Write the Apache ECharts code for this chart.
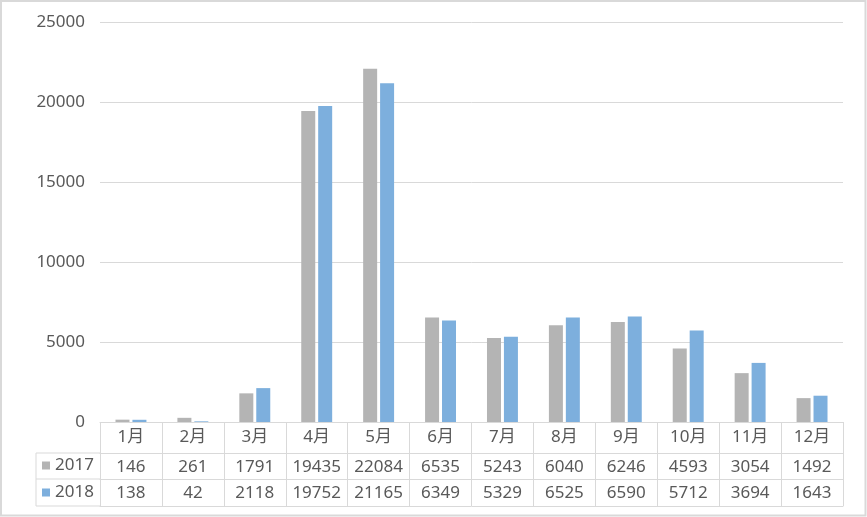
<!DOCTYPE html>
<html>
<head>
<meta charset="utf-8">
<script src="https://cdn.jsdelivr.net/npm/echarts@6/dist/echarts.min.js"></script>
<style>html,body{margin:0;padding:0;background:#fff;}#c{width:867px;height:517px;}</style>
</head>
<body>
<div id="c"></div>
<script>
const months = ['1月','2月','3月','4月','5月','6月','7月','8月','9月','10月','11月','12月'];
const seriesNames = ['2017','2018'];
const values2017 = [146,261,1791,19435,22084,6535,5243,6040,6246,4593,3054,1492];
const values2018 = [138,42,2118,19752,21165,6349,5329,6525,6590,5712,3694,1643];
const yMin = 0, yMax = 25000, yStep = 5000;

const FONT = '"Noto Sans", "Noto Sans CJK SC", sans-serif';
const TXT = '#595959';
const LINE = '#D9D9D9';
const colors = ['#B4B4B4', '#7DAFDD'];
const FS = 17;

const chart = echarts.init(document.getElementById('c'), null, {renderer: 'canvas'});

function tableAxis(data, offset, tickLen, margin, showLabel) {
  return {
    type: 'category', data: data, position: 'bottom', offset: offset, gridIndex: 0,
    boundaryGap: true,
    axisLine: {show: true, lineStyle: {color: LINE, width: 1}},
    axisTick: {show: tickLen > 0, length: tickLen, interval: 0, lineStyle: {color: LINE, width: 1}},
    axisLabel: {show: showLabel, interval: 0, margin: margin, fontSize: FS, lineHeight: FS, color: TXT, fontFamily: FONT},
    splitLine: {show: false}
  };
}

const option = {
  animation: false,
  backgroundColor: '#fff',
  color: colors,
  textStyle: {fontFamily: FONT},
  grid: {left: 100, right: 24, top: 22, bottom: 95, containLabel: false},
  legend: {
    data: seriesNames, orient: 'vertical', left: 42, top: 457, height: 80, width: 60, padding: 0,
    itemWidth: 8, itemHeight: 8, itemGap: 10, icon: 'rect',
    textStyle: {fontSize: FS, lineHeight: FS, color: TXT, fontFamily: FONT}
  },
  xAxis: [
    tableAxis(months, 0, 31, 7, true),
    tableAxis(values2017.map(String), 31, 27, 6, true),
    tableAxis(values2018.map(String), 57, 27, 6, true),
    tableAxis(months.map(() => ''), 84, 0, 0, false)
  ],
  yAxis: {
    type: 'value', min: yMin, max: yMax, interval: yStep,
    axisLine: {show: false}, axisTick: {show: false},
    axisLabel: {margin: 15, fontSize: FS, color: TXT, fontFamily: FONT, formatter: v => String(v)},
    splitLine: {lineStyle: {color: LINE, width: 1}}
  },
  series: [
    {name: seriesNames[0], type: 'bar', xAxisIndex: 0, data: values2017, barWidth: 14, barGap: '21%', itemStyle: {color: colors[0]}},
    {name: seriesNames[1], type: 'bar', xAxisIndex: 0, data: values2018, barWidth: 14, barGap: '21%', itemStyle: {color: colors[1]}}
  ],
  graphic: [
    {type: 'rect', shape: {x: 1, y: 1, width: 864.5, height: 514.5}, style: {fill: 'none', stroke: LINE, lineWidth: 2}, silent: true},
    {type: 'line', shape: {x1: 36, y1: 453, x2: 100, y2: 453}, style: {stroke: LINE, lineWidth: 1}},
    {type: 'line', shape: {x1: 36, y1: 479, x2: 100, y2: 479}, style: {stroke: LINE, lineWidth: 1}},
    {type: 'line', shape: {x1: 36, y1: 506, x2: 100, y2: 506}, style: {stroke: LINE, lineWidth: 1}},
    {type: 'line', shape: {x1: 36, y1: 453, x2: 36, y2: 506}, style: {stroke: LINE, lineWidth: 1}}
  ]
};
chart.setOption(option);
</script>
</body>
</html>
